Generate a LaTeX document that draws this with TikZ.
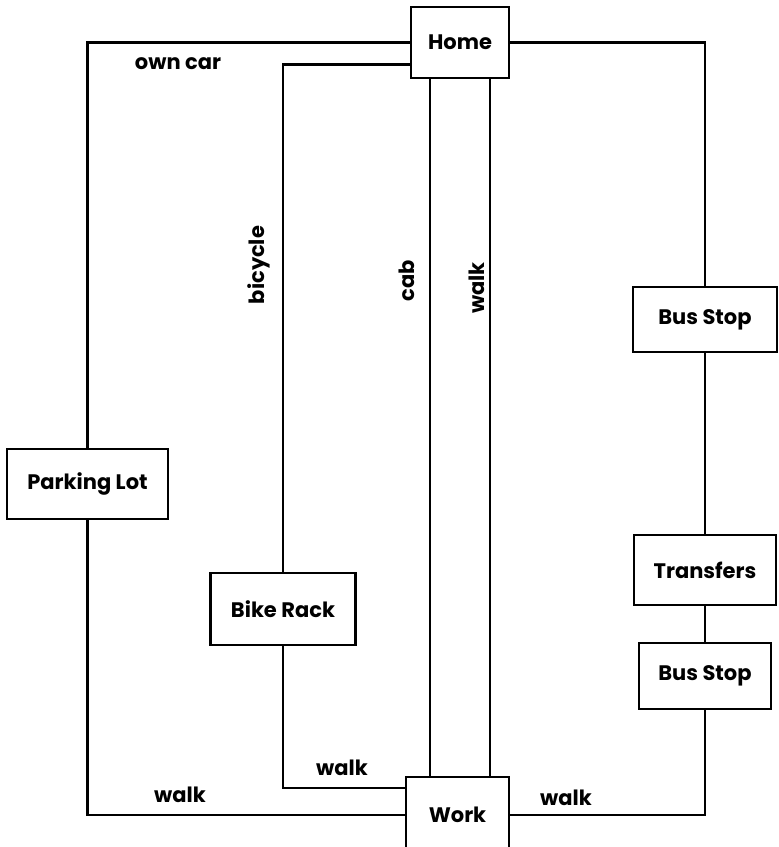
\documentclass[tikz,border=0pt]{standalone}
\usepackage{fontspec}
\setmainfont{Poppins}
\usetikzlibrary{positioning,calc}

\begin{document}
\begin{tikzpicture}[x=1pt, y=-1pt, line width=2.4pt,
  place/.style={draw, inner sep=0pt, font=\fontsize{21}{24}\selectfont\bfseries},
  lbl/.style={inner sep=0pt, font=\fontsize{21}{24}\selectfont\bfseries}]
  \useasboundingbox (0,0) rectangle (779,847);
  % places
  \node[place, minimum width=98, minimum height=71] (home) at (460,42.5) {Home};
  \node[place, minimum width=103, minimum height=76] (work) at (457.5,815) {Work};
  \node[place, minimum width=161, minimum height=70] (park) at (87.5,484) {Parking Lot};
  \node[place, minimum width=145, minimum height=72] (bike) at (283,609) {Bike Rack};
  \node[place, minimum width=144, minimum height=65] (bus1) at (705,319.5) {Bus Stop};
  \node[place, minimum width=142, minimum height=70] (trans) at (705,570) {Transfers};
  \node[place, minimum width=132, minimum height=66] (bus2) at (705,676) {Bus Stop};
  % routes
  \draw (home.west) -| (park.north);
  \draw (park.south) |- (work.west);
  \draw ($(home.west)+(0,22)$) -| (bike.north);
  \draw (bike.south) |- ($(work.west)+(0,-27)$);
  \coordinate (cabtop) at ($(home.south)+(-30,0)$);
  \coordinate (walktop) at ($(home.south)+(30,0)$);
  \draw (cabtop) -- (cabtop |- work.north);
  \draw (walktop) -- (walktop |- work.north);
  \draw (home.east) -| (bus1.north);
  \draw (bus1) -- (trans);
  \draw (trans) -- (bus2);
  \draw (bus2.south) |- (work.east);
  % labels
  \node[lbl] (owncar) at (178,64) {own car};
  \node[lbl, rotate=90] (bicycle) at (259,265) {bicycle};
  \node[lbl, rotate=90] (cab) at (407,281) {cab};
  \node[lbl, rotate=90] (walkmid) at (477,288) {walk};
  \node[lbl] (walkbike) at (342,768) {walk};
  \node[lbl] (walkpark) at (180,795) {walk};
  \node[lbl] (walkbus) at (566,798) {walk};
\end{tikzpicture}
\end{document}
